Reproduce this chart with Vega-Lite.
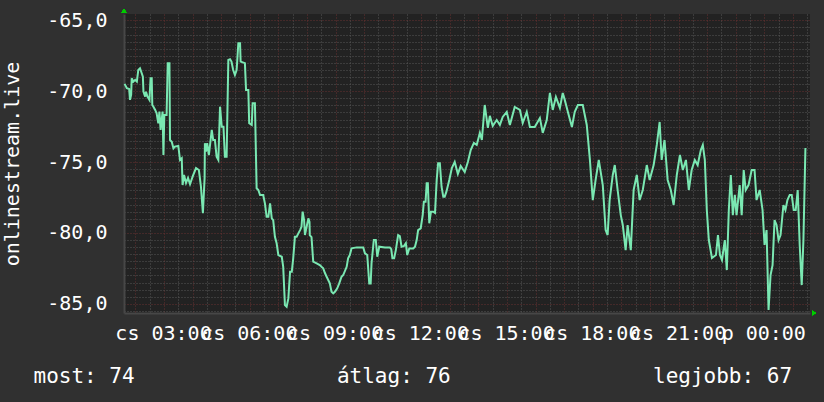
{
  "$schema": "https://vega.github.io/schema/vega-lite/v6.json",
  "width": 686,
  "height": 299,
  "autosize": {"type": "none"},
  "padding": {"left": 124, "top": 14, "right": 14, "bottom": 89},
  "background": "#303030",
  "view": {"fill": "#222222", "stroke": null},
  "config": {"font": "DejaVu Sans Mono"},
  "data": {"values": [
    {"h":1.62,"v":-69.48},{"h":1.70,"v":-69.79},{"h":1.78,"v":-69.84},{"h":1.81,"v":-70.61},{"h":1.85,"v":-70.26},{"h":1.87,"v":-69.08},{"h":1.93,"v":-69.32},{"h":1.99,"v":-69.20},{"h":2.05,"v":-69.32},{"h":2.10,"v":-68.50},{"h":2.16,"v":-68.38},{"h":2.22,"v":-68.73},{"h":2.26,"v":-68.97},{"h":2.28,"v":-70.03},{"h":2.34,"v":-70.38},{"h":2.37,"v":-70.03},{"h":2.42,"v":-70.38},{"h":2.49,"v":-70.61},{"h":2.53,"v":-69.08},{"h":2.57,"v":-69.08},{"h":2.59,"v":-70.97},{"h":2.63,"v":-71.09},{"h":2.69,"v":-71.32},{"h":2.74,"v":-71.55},{"h":2.80,"v":-72.26},{"h":2.84,"v":-71.44},{"h":2.88,"v":-72.73},{"h":2.95,"v":-71.44},{"h":2.98,"v":-74.50},{"h":3.01,"v":-71.67},{"h":3.09,"v":-71.67},{"h":3.13,"v":-68.02},{"h":3.19,"v":-68.02},{"h":3.21,"v":-73.44},{"h":3.27,"v":-73.56},{"h":3.33,"v":-74.03},{"h":3.38,"v":-73.91},{"h":3.50,"v":-73.86},{"h":3.56,"v":-74.85},{"h":3.62,"v":-74.73},
    {"h":3.65,"v":-76.62},{"h":3.70,"v":-75.91},{"h":3.77,"v":-76.48},{"h":3.84,"v":-76.12},{"h":3.91,"v":-76.55},{"h":4.01,"v":-75.98},{"h":4.12,"v":-75.42},{"h":4.22,"v":-75.56},{"h":4.29,"v":-76.69},{"h":4.36,"v":-78.60},{"h":4.42,"v":-76.12},{"h":4.43,"v":-73.67},{"h":4.47,"v":-74.27},{"h":4.51,"v":-73.67},{"h":4.57,"v":-74.50},{"h":4.67,"v":-72.73},{"h":4.72,"v":-73.44},{"h":4.78,"v":-73.44},{"h":4.84,"v":-74.62},{"h":4.90,"v":-74.85},{"h":4.96,"v":-71.09},{"h":5.02,"v":-72.50},{"h":5.08,"v":-72.50},{"h":5.13,"v":-74.62},{"h":5.19,"v":-74.62},{"h":5.25,"v":-67.79},{"h":5.31,"v":-67.74},{"h":5.36,"v":-67.91},{"h":5.42,"v":-68.50},{"h":5.48,"v":-68.85},{"h":5.54,"v":-68.50},{"h":5.56,"v":-67.91},{"h":5.60,"v":-66.61},{"h":5.66,"v":-66.61},{"h":5.68,"v":-67.91},{"h":5.83,"v":-68.02},{"h":5.87,"v":-69.91},{"h":5.95,"v":-69.91},{"h":5.98,"v":-72.26},{"h":6.07,"v":-72.38},{"h":6.10,"v":-70.85},{"h":6.18,"v":-70.85},
    {"h":6.24,"v":-76.85},{"h":6.30,"v":-76.97},{"h":6.36,"v":-77.32},{"h":6.47,"v":-77.32},{"h":6.53,"v":-77.91},{"h":6.59,"v":-78.86},{"h":6.65,"v":-78.86},{"h":6.71,"v":-77.91},{"h":6.77,"v":-78.97},{"h":6.82,"v":-79.09},{"h":6.88,"v":-80.27},{"h":6.94,"v":-80.73},{"h":7.00,"v":-81.56},{"h":7.12,"v":-81.68},{"h":7.17,"v":-82.39},{"h":7.23,"v":-85.09},{"h":7.29,"v":-85.21},{"h":7.35,"v":-84.62},{"h":7.41,"v":-82.74},{"h":7.47,"v":-82.74},{"h":7.52,"v":-81.79},{"h":7.58,"v":-80.27},{"h":7.64,"v":-80.27},{"h":7.70,"v":-80.03},{"h":7.76,"v":-79.80},{"h":7.81,"v":-79.56},{"h":7.85,"v":-78.50},{"h":7.90,"v":-79.09},{"h":7.93,"v":-80.15},{"h":8.05,"v":-78.97},{"h":8.09,"v":-79.23},{"h":8.10,"v":-80.15},{"h":8.16,"v":-80.29},{"h":8.22,"v":-82.03},{"h":8.34,"v":-82.15},{"h":8.45,"v":-82.27},{"h":8.51,"v":-82.39},{"h":8.57,"v":-82.50},{"h":8.63,"v":-82.83},{"h":8.69,"v":-83.09},{"h":8.80,"v":-83.56},{"h":8.86,"v":-84.15},{"h":8.92,"v":-84.27},{"h":8.98,"v":-84.15},{"h":9.06,"v":-83.91},{"h":9.13,"v":-83.56},{"h":9.21,"v":-83.09},{"h":9.27,"v":-82.97},{"h":9.39,"v":-82.39},{"h":9.44,"v":-81.79},{"h":9.50,"v":-81.56},{"h":9.56,"v":-81.09},{"h":9.74,"v":-81.02},{"h":9.97,"v":-81.02},{"h":10.03,"v":-81.44},{"h":10.11,"v":-81.56},{"h":10.18,"v":-83.56},{"h":10.23,"v":-83.56},{"h":10.26,"v":-82.15},{"h":10.34,"v":-80.50},{"h":10.41,"v":-80.50},{"h":10.46,"v":-81.68},{"h":10.53,"v":-80.97},{"h":10.73,"v":-81.02},{"h":10.90,"v":-81.02},{"h":10.95,"v":-81.14},{"h":10.99,"v":-81.79},{"h":11.05,"v":-81.79},{"h":11.11,"v":-81.21},{"h":11.19,"v":-80.15},{"h":11.25,"v":-80.22},{"h":11.31,"v":-80.97},{"h":11.39,"v":-80.93},{"h":11.46,"v":-80.73},{"h":11.51,"v":-81.56},{"h":11.58,"v":-81.09},{"h":11.72,"v":-81.09},{"h":11.78,"v":-80.97},{"h":11.84,"v":-80.50},{"h":11.89,"v":-79.80},{"h":11.98,"v":-79.68},{"h":12.05,"v":-78.74},{"h":12.09,"v":-77.80},{"h":12.15,"v":-77.80},{"h":12.19,"v":-76.50},{"h":12.23,"v":-76.50},{"h":12.28,"v":-79.32},{"h":12.34,"v":-78.50},{"h":12.42,"v":-78.50},{"h":12.48,"v":-78.59},{"h":12.54,"v":-76.26},{"h":12.59,"v":-75.08},{"h":12.65,"v":-75.08},{"h":12.71,"v":-76.74},{"h":12.77,"v":-77.44},{"h":12.82,"v":-77.44},{"h":12.88,"v":-77.09},{"h":12.98,"v":-76.26},
    {"h":13.07,"v":-75.42},{"h":13.17,"v":-74.99},{"h":13.28,"v":-75.84},{"h":13.38,"v":-75.28},{"h":13.52,"v":-75.70},{"h":13.63,"v":-74.99},{"h":13.73,"v":-74.15},{"h":13.84,"v":-73.65},{"h":13.94,"v":-73.79},{"h":14.05,"v":-72.94},{"h":14.12,"v":-73.44},{"h":14.22,"v":-70.97},{"h":14.33,"v":-72.59},{"h":14.40,"v":-71.74},{"h":14.50,"v":-72.45},{"h":14.64,"v":-72.03},{"h":14.75,"v":-72.38},{"h":14.85,"v":-71.81},{"h":14.99,"v":-71.46},{"h":15.10,"v":-72.38},{"h":15.27,"v":-71.11},{"h":15.45,"v":-71.32},{"h":15.55,"v":-72.24},{"h":15.69,"v":-71.46},{"h":15.80,"v":-72.52},{"h":15.97,"v":-72.52},{"h":16.15,"v":-71.89},{"h":16.25,"v":-72.94},{"h":16.39,"v":-72.03},{"h":16.50,"v":-70.12},{"h":16.60,"v":-71.32},{"h":16.71,"v":-70.40},{"h":16.85,"v":-71.18},{"h":16.95,"v":-70.12},{"h":17.02,"v":-70.61},{"h":17.13,"v":-71.46},{"h":17.27,"v":-72.52},{"h":17.37,"v":-71.46},{"h":17.48,"v":-70.97},{"h":17.65,"v":-70.97},{"h":17.79,"v":-72.38},{"h":17.90,"v":-74.85},{"h":18.00,"v":-77.68},{"h":18.10,"v":-76.26},{"h":18.21,"v":-74.85},{"h":18.35,"v":-76.62},{"h":18.45,"v":-79.80},{"h":18.52,"v":-80.15},{"h":18.59,"v":-77.68},{"h":18.70,"v":-75.91},{"h":18.77,"v":-75.21},{"h":18.87,"v":-76.97},{"h":18.98,"v":-78.74},{"h":19.05,"v":-79.44},{"h":19.15,"v":-81.21},{"h":19.22,"v":-79.44},{"h":19.33,"v":-81.21},{"h":19.43,"v":-76.97},{"h":19.54,"v":-75.91},{"h":19.64,"v":-77.68},{"h":19.75,"v":-76.97},{"h":19.89,"v":-75.21},{"h":19.99,"v":-76.26},{"h":20.13,"v":-75.21},{"h":20.24,"v":-73.79},{"h":20.34,"v":-72.17},{"h":20.41,"v":-74.85},{"h":20.51,"v":-73.44},{"h":20.62,"v":-76.26},{"h":20.73,"v":-76.97},{"h":20.83,"v":-78.03},{"h":20.94,"v":-75.91},{"h":21.05,"v":-74.50},{"h":21.15,"v":-75.56},{"h":21.26,"v":-74.85},{"h":21.36,"v":-76.97},{"h":21.46,"v":-75.56},{"h":21.57,"v":-74.85},{"h":21.67,"v":-75.21},{"h":21.78,"v":-74.15},{"h":21.85,"v":-73.79},{"h":21.92,"v":-74.85},{"h":21.99,"v":-78.38},{"h":22.06,"v":-80.50},{"h":22.17,"v":-81.77},{"h":22.31,"v":-81.56},{"h":22.38,"v":-80.15},{"h":22.45,"v":-81.56},{"h":22.52,"v":-81.91},{"h":22.62,"v":-80.50},{"h":22.69,"v":-82.62},{"h":22.76,"v":-78.38},{"h":22.83,"v":-75.91},{"h":22.90,"v":-78.74},{"h":22.97,"v":-77.32},{"h":23.03,"v":-78.74},{"h":23.14,"v":-76.62},{"h":23.21,"v":-78.74},{"h":23.28,"v":-75.56},{"h":23.35,"v":-76.97},{"h":23.45,"v":-76.62},{"h":23.56,"v":-75.56},{"h":23.66,"v":-75.56},{"h":23.73,"v":-77.68},{"h":23.84,"v":-76.97},{"h":23.94,"v":-78.38},{"h":24.01,"v":-80.85},{"h":24.08,"v":-79.80},{"h":24.15,"v":-85.44},{"h":24.22,"v":-82.97},{"h":24.29,"v":-82.27},{"h":24.36,"v":-79.09},{"h":24.43,"v":-79.44},{"h":24.50,"v":-80.50},{"h":24.57,"v":-80.15},{"h":24.67,"v":-78.03},{"h":24.74,"v":-78.38},{"h":24.81,"v":-77.68},{"h":24.89,"v":-77.32},{"h":24.96,"v":-77.32},{"h":25.03,"v":-78.38},{"h":25.10,"v":-78.38},{"h":25.17,"v":-76.97},{"h":25.24,"v":-80.85},{"h":25.31,"v":-83.68},{"h":25.37,"v":-80.50},{"h":25.44,"v":-74.00}
  ]},
  "layer": [
    {
      "mark": {"type": "line", "strokeOpacity": 0},
      "encoding": {
        "x": {"field": "h", "type": "quantitative", "scale": {"domain": [1.6, 25.6], "nice": false, "zero": false},
          "axis": {"orient": "bottom", "values": [2.5,3.5,4.5,5.5,6.5,7.5,8.5,9.5,10.5,11.5,12.5,13.5,14.5,15.5,16.5,17.5,18.5,19.5,20.5,21.5,22.5,23.5,24.5,25.5],
            "grid": true, "gridColor": "#575757", "gridDash": [1, 2], "gridWidth": 1, "labels": false, "ticks": false, "domain": false, "title": null}},
        "y": {"field": "v", "type": "quantitative", "scale": {"domain": [-85.65, -64.55], "nice": false, "zero": false},
          "axis": {"orient": "left", "values": [-85.5,-84.5,-84,-83.5,-83,-82.5,-82,-81.5,-81,-80.5,-79.5,-79,-78.5,-78,-77.5,-77,-76.5,-76,-75.5,-74.5,-74,-73.5,-73,-72.5,-72,-71.5,-71,-70.5,-69.5,-69,-68.5,-68,-67.5,-67,-66.5,-66,-65.5],
            "grid": true, "gridColor": "#575757", "gridDash": [1, 2], "gridWidth": 1, "labels": false, "ticks": false, "domain": false, "title": null}}
      }
    },
    {
      "mark": {"type": "line", "strokeOpacity": 0},
      "encoding": {
        "x": {"field": "h", "type": "quantitative", "scale": {"domain": [1.6, 25.6], "nice": false, "zero": false},
          "axis": {"orient": "bottom", "values": [2,3,4,5,6,7,8,9,10,11,12,13,14,15,16,17,18,19,20,21,22,23,24,25],
            "grid": true, "gridColor": "#663030", "gridDash": [1, 2], "gridWidth": 1,
            "ticks": false, "domain": true, "domainColor": "#474747", "domainWidth": 2,
            "labelExpr": "datum.value % 3 == 0 ? (datum.value < 24 ? 'cs ' + (datum.value < 10 ? '0' : '') + datum.value + ':00' : 'p ' + (datum.value - 24 < 10 ? '0' : '') + (datum.value - 24) + ':00') : ''",
            "labelFont": "DejaVu Sans Mono", "labelFontSize": 20, "labelColor": "#ffffff", "labelOverlap": false, "labelFlush": false, "labelBound": false,
            "labelPadding": 26, "labelBaseline": "alphabetic", "labelAlign": "center", "labelOffset": -1,
            "title": "most: 74\u00a0\u00a0\u00a0\u00a0\u00a0\u00a0\u00a0\u00a0\u00a0\u00a0\u00a0\u00a0\u00a0\u00a0\u00a0\u00a0átlag: 76\u00a0\u00a0\u00a0\u00a0\u00a0\u00a0\u00a0\u00a0\u00a0\u00a0\u00a0\u00a0\u00a0\u00a0\u00a0\u00a0legjobb: 67",
            "titleFont": "DejaVu Sans Mono", "titleFontSize": 21, "titleFontWeight": "normal", "titleColor": "#ffffff",
            "titleX": -91, "titleY": 69, "titleAlign": "left", "titleAnchor": "start", "titleBaseline": "alphabetic"}},
        "y": {"field": "v", "type": "quantitative", "scale": {"domain": [-85.65, -64.55], "nice": false, "zero": false},
          "axis": {"orient": "left", "values": [-85, -80, -75, -70, -65],
            "grid": true, "gridColor": "#663030", "gridDash": [1, 2], "gridWidth": 1,
            "ticks": false, "domain": true, "domainColor": "#474747", "domainWidth": 2,
            "labelExpr": "'-' + replace(format(-datum.value, '.1f'), '.', ',')",
            "labelFont": "DejaVu Sans Mono", "labelFontSize": 20, "labelColor": "#ffffff", "labelPadding": 17, "labelBaseline": "middle",
            "title": "onlinestream.live", "titleFont": "DejaVu Sans Mono", "titleFontSize": 20, "titleFontWeight": "normal", "titleColor": "#ffffff",
            "titleAngle": -90, "titleX": -106, "titleY": 149.5, "titleAlign": "center", "titleBaseline": "alphabetic"}}
      }
    },
    {
      "mark": {"type": "line", "stroke": "#7ae8b2", "strokeWidth": 2, "interpolate": "linear"},
      "encoding": {
        "x": {"field": "h", "type": "quantitative", "axis": null},
        "y": {"field": "v", "type": "quantitative", "axis": null}
      }
    },
    {
      "mark": {"type": "point", "shape": "triangle-up", "filled": true, "color": "#00cc00", "size": 22, "opacity": 1, "yOffset": -3},
      "encoding": {
        "x": {"datum": 1.6, "type": "quantitative", "axis": null},
        "y": {"datum": -64.55, "type": "quantitative", "axis": null}
      }
    },
    {
      "mark": {"type": "point", "shape": "triangle-right", "filled": true, "color": "#00cc00", "size": 22, "opacity": 1, "xOffset": 4},
      "encoding": {
        "x": {"datum": 25.6, "type": "quantitative", "axis": null},
        "y": {"datum": -85.65, "type": "quantitative", "axis": null}
      }
    }
  ],
  "resolve": {"axis": {"x": "independent", "y": "independent"}}
}
